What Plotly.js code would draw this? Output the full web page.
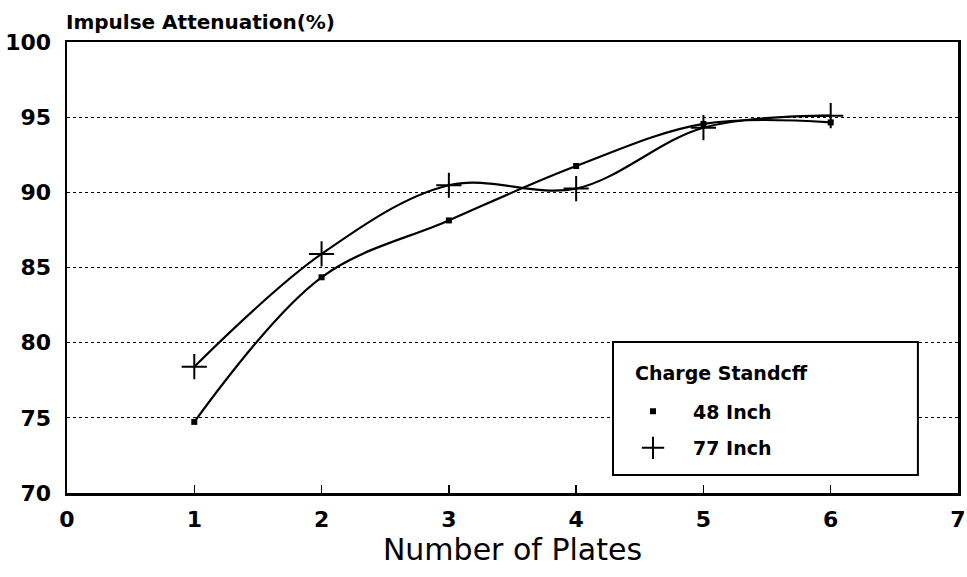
<!DOCTYPE html>
<html><head><meta charset="utf-8">
<script src="https://cdn.plot.ly/plotly-3.0.1.min.js"></script>
<style>body{margin:0;background:#fff}#chart{width:967px;height:577px}</style>
</head><body><div id="chart"></div>
<script>
const plates = [1, 2, 3, 4, 5, 6];
const att48 = [74.73, 84.35, 88.13, 91.75, 94.55, 94.65];
const att77 = [78.4, 85.9, 90.47, 90.25, 94.3, 95.1];
const seriesNames = ['48 Inch', '77 Inch'];
const legendTitle = 'Charge Standcff';
const xTicks = [0, 1, 2, 3, 4, 5, 6, 7];
const yTicks = [70, 75, 80, 85, 90, 95, 100];

const bold = 'DejaVu Sans, Verdana, sans-serif';
const traces = [
  {x: plates, y: att48, mode: 'lines', line: {shape: 'spline', smoothing: 1, color: '#000', width: 2.2}, showlegend: false, hoverinfo: 'skip'},
  {x: plates, y: att77, mode: 'lines', line: {shape: 'spline', smoothing: 1, color: '#000', width: 2.2}, showlegend: false, hoverinfo: 'skip'},
  {x: plates, y: att48, mode: 'markers', name: seriesNames[0], legendgroup: 'a',
   marker: {symbol: 'square', size: 6, color: '#000'}},
  {x: plates, y: att77, mode: 'markers', name: seriesNames[1], legendgroup: 'b',
   marker: {symbol: 'cross-thin-open', size: 18, color: '#000', line: {color: '#000', width: 2}}}
];
const layout = {
  width: 967, height: 577,
  margin: {l: 67, r: 9, t: 42, b: 84},
  paper_bgcolor: '#fff', plot_bgcolor: '#fff',
  font: {family: bold, color: '#000'},
  xaxis: {
    range: [0, 7], tickvals: xTicks, ticks: 'inside', ticklen: 8, tickwidth: 1.5, tickcolor: '#000',
    showgrid: false, zeroline: false, showline: true, linecolor: '#000', linewidth: 2.5, mirror: true,
    tickfont: {size: 22, family: bold, weight: 'bold'}, ticklabelstandoff: 5,
    title: {text: 'Number of Plates', font: {size: 30, family: bold}, standoff: 0}
  },
  yaxis: {
    range: [70, 100], tickvals: yTicks, ticks: '', ticklen: 0,
    showgrid: true, gridcolor: '#000', griddash: 'dot', gridwidth: 1.2,
    zeroline: false, showline: true, linecolor: '#000', linewidth: 2.5, mirror: true,
    tickfont: {size: 22, family: bold, weight: 'bold'}, ticklabelstandoff: 9
  },
  showlegend: true,
  legend: {
    x: 0.6128, y: 0.2233, xanchor: 'left', yanchor: 'top',
    bgcolor: 'rgba(0,0,0,0)', borderwidth: 0,
    font: {size: 19, family: bold, weight: 'bold'},
    tracegroupgap: 9, itemwidth: 70
  },
  shapes: [{
    type: 'rect', xref: 'paper', yref: 'paper', x0: 0.6128, x1: 0.955, y0: 0.04, y1: 0.3348,
    line: {color: '#000', width: 2}, fillcolor: '#fff', layer: 'above'
  }],
  annotations: [{
    text: 'Impulse Attenuation(%)', xref: 'paper', yref: 'paper', x: 0, y: 1, xshift: -3,
    xanchor: 'left', yanchor: 'bottom', yshift: 6, showarrow: false,
    font: {size: 20, family: bold, weight: 'bold'}
  }, {
    text: legendTitle, xref: 'paper', yref: 'paper', x: 0.6352, y: 0.266,
    xanchor: 'left', yanchor: 'middle', showarrow: false,
    font: {size: 19, family: bold, weight: 'bold'}
  }]
};
Plotly.newPlot('chart', traces, layout, {displayModeBar: false, staticPlot: true});
</script></body></html>
